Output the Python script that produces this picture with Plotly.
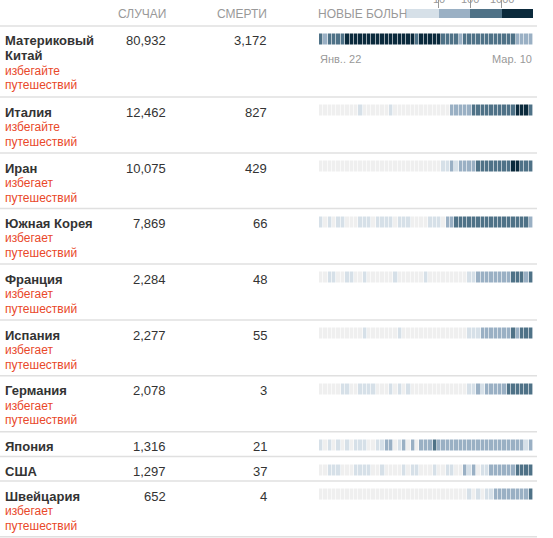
import plotly.graph_objects as go

W, H = 553, 538

# ---------------- data ----------------
countries = ["Материковый Китай", "Италия", "Иран", "Южная Корея", "Франция",
             "Испания", "Германия", "Япония", "США", "Швейцария"]
name_lines = [["Материковый", "Китай"], ["Италия"], ["Иран"], ["Южная Корея"], ["Франция"],
              ["Испания"], ["Германия"], ["Япония"], ["США"], ["Швейцария"]]
cases = [80932, 12462, 10075, 7869, 2284, 2277, 2078, 1316, 1297, 652]
deaths = [3172, 827, 429, 66, 48, 55, 3, 21, 37, 4]
advisory = [["избегайте", "путешествий"], ["избегайте", "путешествий"],
            ["избегает", "путешествий"], ["избегает", "путешествий"],
            ["избегает", "путешествий"], ["избегает", "путешествий"],
            ["избегает", "путешествий"], [], [], ["избегает", "путешествий"]]

header_labels = ["СЛУЧАИ", "СМЕРТИ", "НОВЫЕ БОЛЬНЫЕ"]
date_labels = ["Янв.. 22", "Мар. 10"]
legend_ticks = ["10", "100", "1000"]

# new-case level per day (0: none, 1: 1-10, 2: 10-100, 3: 100-1000, 4: >1000), Jan 22 .. Mar 10
new_cases_level = {
    "Материковый Китай": [3,2,3,3,3,3,4,4,4,4, 4,4,4,4,4,4,4,4,4,4, 4,4,3,4,4,4,4,4,3,3,
                          3,3,2,3,3,3,3,3,3,3, 3,3,3,3,3,2,2,2,2],
    "Италия":   [0,0,0,0,0,0,0,0,0,1, 0,0,0,0,0,0,1,0,0,0, 0,0,0,0,0,0,0,0,0,0,
                 2,2,2,2,2,3,3,3,3,3, 3,3,3,3,3,4,4,4,3],
    "Иран":     [0,0,0,0,0,0,0,0,0,0, 0,0,0,0,0,0,0,0,0,0, 0,0,0,0,0,0,0,0,1,1,
                 2,1,2,2,2,2,3,3,3,3, 3,3,3,3,4,4,3,3,3],
    "Южная Корея": [1,0,1,0,1,1,0,0,0,1, 1,1,0,1,1,1,1,0,1,1, 1,0,0,0,0,1,1,1,0,2,
                    2,3,3,3,3,3,3,3,3,3, 3,3,3,3,3,3,3,3,2],
    "Франция":  [0,0,1,1,0,0,1,1,0,0, 1,0,0,0,0,0,0,1,0,0, 0,0,0,0,1,0,0,0,0,0,
                 0,0,0,0,1,1,2,2,2,2, 2,2,2,2,3,3,3,2,3],
    "Испания":  [0,0,0,0,0,0,0,0,0,0, 1,0,0,0,0,0,0,0,1,0, 0,0,0,0,0,0,0,0,0,0,
                 0,0,0,0,1,1,1,2,2,2, 2,2,2,2,3,2,3,3,3],
    "Германия": [0,0,0,0,0,1,1,0,0,1, 1,1,1,0,0,0,1,0,1,0, 1,0,0,0,0,0,0,0,0,0,
                 0,0,0,0,1,1,2,1,2,2, 2,2,2,3,3,3,3,3,3],
    "Япония":   [1,0,1,0,1,0,1,0,1,1, 1,0,0,1,1,2,2,0,1,2, 0,2,0,2,2,2,3,2,2,2,
                 2,2,2,2,2,2,2,2,2,2, 2,2,2,2,2,2,2,1,2],
    "США":      [0,0,1,1,1,0,0,0,1,1, 1,1,0,0,1,0,0,0,0,1, 0,1,1,0,0,0,1,0,0,1,
                 1,0,0,2,1,2,0,1,1,2, 2,2,2,2,2,3,3,3,3],
    "Швейцария": [0,0,0,0,0,0,0,0,0,0, 0,0,0,0,0,0,0,0,0,0, 0,0,0,0,0,0,0,0,0,0,
                  0,0,0,0,1,0,1,0,1,1, 2,2,2,2,2,2,2,2,3],
}
n_days = 49
legend_levels = [1, 2, 3, 4]

# ---------------- style / layout ----------------
level_colors = ["#efefef", "#d6e0e8", "#9ab0c4", "#4f7287", "#0b2a3c"]
cs = []
for i, c in enumerate(level_colors):
    cs.append([i / 5, c])
    cs.append([(i + 1) / 5, c])

FONT = "Liberation Sans, Arial, sans-serif"
DARK = "#333333"
RED = "#e9482a"
GRAY = "#999999"
LINE = "#e0e0e0"

row_tops = [26, 97, 153, 208.5, 264, 320, 375.7, 431.7, 456.5, 481]
table_bottom = 536.7
strip_off, strip_h = 7.5, 11
strip_left, strip_right = 319, 533


def px(x):
    return x / W


def py(y):
    return 1 - y / H


# heatmap rows (interleaved with empty gap rows)
z, yedges = [], []
for i, c in enumerate(countries):
    t = row_tops[i] + strip_off
    yedges += [t, t + strip_h]
    z.append(new_cases_level[c])
    if i < len(countries) - 1:
        z.append([None] * n_days)

fig = go.Figure()

# header "new cases" text as trace (so the legend bar covers it)
fig.add_trace(go.Scatter(
    x=[strip_left - 1], y=[14.5], mode="text", text=[header_labels[2]],
    textposition="middle right", textfont=dict(family=FONT, size=12, color=GRAY),
    hoverinfo="skip", showlegend=False, xaxis="x", yaxis="y", cliponaxis=False))

# legend bar
fig.add_trace(go.Heatmap(
    z=[legend_levels], x=[0, 1, 2, 3, 4], y=[0, 1], colorscale=cs, zmin=-0.5, zmax=4.5,
    showscale=False, hoverinfo="skip", xaxis="x2", yaxis="y2"))

# strips
fig.add_trace(go.Heatmap(
    z=z, x=list(range(n_days + 1)), y=yedges, colorscale=cs, zmin=-0.5, zmax=4.5,
    showscale=False, xgap=0.6, hoverinfo="skip", xaxis="x3", yaxis="y"))

ann = []


def text(x, y, s, size=13, color=DARK, anchor="left", bold=False):
    ann.append(dict(x=px(x), y=py(y), xref="paper", yref="paper", text=f"<b>{s}</b>" if bold else s,
                    showarrow=False, xanchor=anchor, yanchor="middle",
                    font=dict(family=FONT, size=size, color=color)))


# headers
text(168, 14.5, header_labels[0], size=12, color=GRAY, anchor="right")
text(269, 14.5, header_labels[1], size=12, color=GRAY, anchor="right")

for i, c in enumerate(countries):
    t = row_tops[i]
    y = t + 15
    for j, ln in enumerate(name_lines[i]):
        text(3, y + j * 14.5, ln, bold=True)
    text(168, y, f"{cases[i]:,}", anchor="right")
    text(269, y, f"{deaths[i]:,}", anchor="right")
    y2 = y + len(name_lines[i]) * 14.5 + 0.5
    for j, ln in enumerate(advisory[i]):
        text(3, y2 + j * 14.5, ln, size=12, color=RED)

# date labels under first strip
text(strip_left - 1, 59, date_labels[0], size=11, color=GRAY, anchor="left")
text(strip_right + 1, 59, date_labels[1], size=11, color=GRAY, anchor="right")

# legend tick labels (partly cut at the top)
for k, lab in enumerate(legend_ticks):
    xl = 407 + (k + 1) * (533 - 407) / 4
    ann.append(dict(x=px(xl), y=py(-1), xref="paper", yref="paper", text=lab, showarrow=False,
                    xanchor="center", yanchor="middle",
                    font=dict(family=FONT, size=11, color=GRAY)))

shapes = []
for yl in [26] + row_tops[1:] + [table_bottom]:
    shapes.append(dict(type="line", xref="paper", yref="paper", x0=0, x1=px(537),
                       y0=py(yl), y1=py(yl), line=dict(color=LINE, width=1.5)))

fig.update_layout(
    width=W, height=H, margin=dict(l=0, r=0, t=0, b=0),
    paper_bgcolor="white", plot_bgcolor="rgba(0,0,0,0)", showlegend=False,
    annotations=ann, shapes=shapes,
    xaxis=dict(domain=[0, 1], range=[0, W], visible=False, fixedrange=True),
    yaxis=dict(domain=[0, 1], range=[H, 0], visible=False, fixedrange=True),
    xaxis2=dict(domain=[px(407), px(533)], range=[0, 4], anchor="y2", side="top",
                tickvals=[1, 2, 3], ticks="outside", ticklen=9, tickwidth=1, tickcolor=GRAY,
                showticklabels=False, showgrid=False, zeroline=False, showline=False,
                fixedrange=True),
    yaxis2=dict(domain=[py(18), py(9)], range=[0, 1], anchor="x2", visible=False, fixedrange=True),
    xaxis3=dict(domain=[px(strip_left), px(strip_right)], range=[0, n_days], anchor="y",
                visible=False, fixedrange=True),
)

fig.write_html("out.html", config={"displayModeBar": False},
               post_script="document.body.style.margin='0';document.body.style.overflow='hidden';")
